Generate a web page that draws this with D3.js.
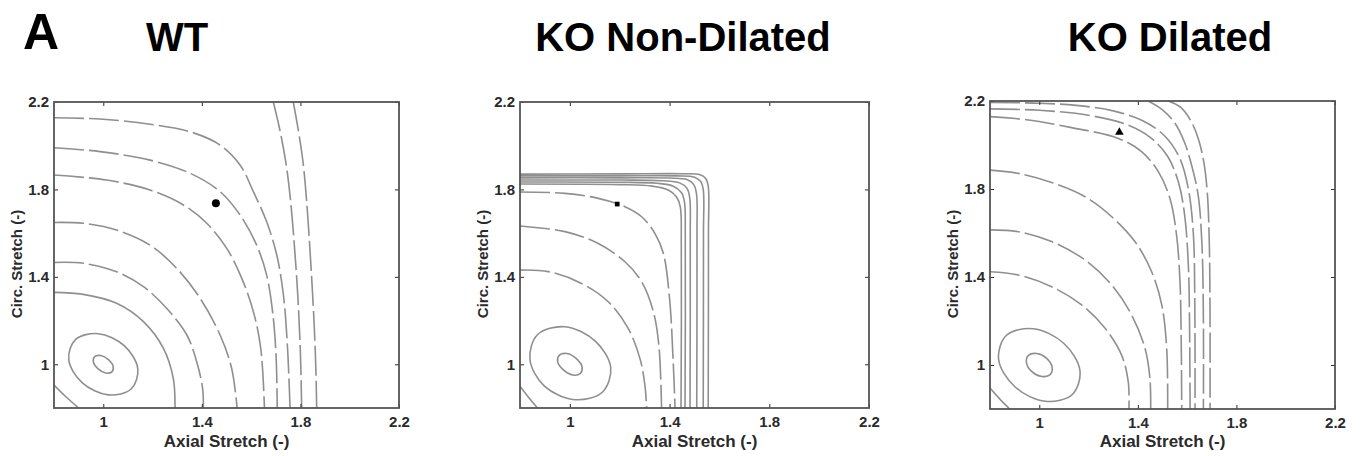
<!DOCTYPE html>
<html>
<head>
<meta charset="utf-8">
<script src="https://cdn.jsdelivr.net/npm/d3@7"></script>
<style>
  body { margin: 0; background: #fff; }
  svg { display: block; }
  text { font-family: "Liberation Sans", Arial, sans-serif; font-weight: bold; }
</style>
</head>
<body>
<div id="chart"></div>
<script>
const panelTitles = ["WT", "KO Non-Dilated", "KO Dilated"];
const figureLabel = "A";
const xTitle = "Axial Stretch (-)";
const yTitle = "Circ. Stretch (-)";
const axisDomain = [0.8, 2.2];
const tickValues = [1, 1.4, 1.8, 2.2];
const tickLabels = ["1", "1.4", "1.8", "2.2"];

// closed contours around the minimum at (1, 1)
const wtRings = [
  [[0.965, 1.035], [0.99, 1.04], [1.021, 1.021], [1.04, 0.99], [1.035, 0.965], [1.01, 0.96], [0.979, 0.979], [0.96, 1.01]],
  [[0.887, 1.113], [0.98, 1.14], [1.085, 1.085], [1.14, 0.98], [1.113, 0.887], [1.02, 0.86], [0.915, 0.915], [0.86, 1.02]]
];
// open contours, inner to outer
const wtContours = [
  [[0.8, 0.905], [0.845, 0.855], [0.9, 0.8]],
  [[0.8, 1.329], [0.919, 1.32], [1.054, 1.279], [1.163, 1.195], [1.244, 1.073], [1.284, 0.936], [1.291, 0.8]],
  [[0.8, 1.466], [0.919, 1.462], [1.054, 1.423], [1.163, 1.355], [1.257, 1.256], [1.339, 1.134], [1.379, 1.012], [1.403, 0.89], [1.406, 0.8]],
  [[0.8, 1.649], [0.919, 1.645], [1.054, 1.614], [1.19, 1.545], [1.298, 1.439], [1.393, 1.302], [1.474, 1.134], [1.521, 0.981], [1.543, 0.8]],
  [[0.8, 1.866], [1.014, 1.843], [1.19, 1.797], [1.325, 1.729], [1.42, 1.645], [1.501, 1.53], [1.562, 1.393], [1.609, 1.241], [1.639, 1.073], [1.654, 0.8]],
  [[0.8, 1.991], [0.987, 1.973], [1.19, 1.934], [1.352, 1.874], [1.474, 1.79], [1.555, 1.683], [1.622, 1.546], [1.663, 1.408], [1.687, 1.241], [1.701, 1.042], [1.706, 0.8]],
  [[0.8, 2.128], [0.987, 2.122], [1.19, 2.098], [1.352, 2.064], [1.474, 2.003], [1.555, 1.912], [1.609, 1.79], [1.663, 1.652], [1.704, 1.5], [1.731, 1.317], [1.747, 1.088], [1.758, 0.8]],
  [[1.69, 2.2], [1.715, 2.08], [1.74, 1.93], [1.758, 1.77], [1.775, 1.55], [1.79, 1.3], [1.8, 1.05], [1.805, 0.8]],
  [[1.771, 2.2], [1.79, 2.08], [1.81, 1.93], [1.825, 1.75], [1.84, 1.5], [1.855, 1.2], [1.862, 1.0], [1.866, 0.8]]
];
const wtPoint = [1.457, 1.737];

const koNonDilatedRings = [
  [[0.958, 1.042], [0.988, 1.049], [1.026, 1.026], [1.049, 0.988], [1.042, 0.958], [1.012, 0.951], [0.974, 0.974], [0.951, 1.012]],
  [[0.87, 1.135], [0.98, 1.172], [1.102, 1.106], [1.164, 0.985], [1.13, 0.872], [1.02, 0.838], [0.898, 0.9], [0.84, 1.022]]
];
const koNonDilatedContours = [
  [[0.8, 0.9], [0.835, 0.848], [0.87, 0.8]],
  [[0.8, 1.431], [0.914, 1.424], [1.047, 1.37], [1.154, 1.286], [1.234, 1.164], [1.281, 1.027], [1.301, 0.905], [1.308, 0.8]],
  [[0.8, 1.633], [0.98, 1.607], [1.114, 1.553], [1.221, 1.469], [1.288, 1.378], [1.335, 1.241], [1.357, 1.088], [1.368, 0.8]],
  [[0.8, 1.788], [0.98, 1.782], [1.114, 1.759], [1.221, 1.721], [1.288, 1.675], [1.341, 1.599], [1.375, 1.508], [1.4, 1.3], [1.415, 1.0], [1.422, 0.8]],
  [[0.8, 1.825], [1.2, 1.822], [1.33, 1.815], [1.395, 1.797], [1.428, 1.765], [1.443, 1.72], [1.447, 1.55], [1.446, 0.8]],
  [[0.8, 1.834], [1.2, 1.833], [1.35, 1.828], [1.415, 1.815], [1.448, 1.785], [1.46, 1.74], [1.463, 1.6], [1.462, 0.8]],
  [[0.8, 1.843], [1.2, 1.843], [1.37, 1.84], [1.44, 1.83], [1.47, 1.805], [1.481, 1.76], [1.483, 1.6], [1.482, 0.8]],
  [[0.8, 1.853], [1.2, 1.853], [1.4, 1.852], [1.47, 1.845], [1.497, 1.822], [1.508, 1.78], [1.51, 1.6], [1.509, 0.8]],
  [[0.8, 1.862], [1.2, 1.862], [1.43, 1.862], [1.5, 1.856], [1.525, 1.836], [1.535, 1.8], [1.536, 1.6], [1.535, 0.8]],
  [[0.8, 1.87], [1.2, 1.871], [1.45, 1.872], [1.52, 1.868], [1.545, 1.85], [1.555, 1.815], [1.556, 1.6], [1.555, 0.8]]
];
const koNonDilatedPoint = [1.19, 1.733];

const koDilatedRings = [
  [[0.956, 1.044], [0.99, 1.052], [1.03, 1.03], [1.052, 0.99], [1.044, 0.956], [1.01, 0.948], [0.97, 0.97], [0.948, 1.01]],
  [[0.866, 1.134], [0.975, 1.165], [1.099, 1.099], [1.165, 0.975], [1.134, 0.866], [1.025, 0.835], [0.901, 0.901], [0.835, 1.025]]
];
const koDilatedContours = [
  [[0.8, 0.895], [0.84, 0.845], [0.88, 0.8]],
  [[0.8, 1.424], [0.915, 1.409], [1.05, 1.356], [1.172, 1.273], [1.267, 1.167], [1.334, 1.045], [1.361, 0.924], [1.364, 0.8]],
  [[0.8, 1.614], [0.915, 1.606], [1.05, 1.561], [1.186, 1.477], [1.294, 1.364], [1.375, 1.227], [1.429, 1.076], [1.449, 0.939], [1.452, 0.8]],
  [[0.8, 1.886], [0.915, 1.871], [1.05, 1.83], [1.186, 1.765], [1.294, 1.674], [1.388, 1.561], [1.456, 1.424], [1.497, 1.273], [1.517, 1.076], [1.521, 0.8]],
  [[0.8, 2.129], [0.956, 2.114], [1.131, 2.079], [1.321, 2.03], [1.415, 1.97], [1.483, 1.879], [1.53, 1.758], [1.557, 1.591], [1.571, 1.379], [1.576, 1.106], [1.578, 0.8]],
  [[0.8, 2.164], [1.0, 2.158], [1.2, 2.135], [1.35, 2.095], [1.45, 2.035], [1.52, 1.95], [1.565, 1.83], [1.59, 1.68], [1.605, 1.45], [1.61, 1.15], [1.612, 0.8]],
  [[0.8, 2.193], [1.0, 2.19], [1.15, 2.18], [1.3, 2.155], [1.42, 2.11], [1.51, 2.04], [1.57, 1.94], [1.605, 1.8], [1.625, 1.6], [1.631, 1.3], [1.632, 0.8]],
  [[1.442, 2.2], [1.5, 2.16], [1.55, 2.1], [1.59, 2.01], [1.62, 1.9], [1.645, 1.77], [1.66, 1.55], [1.666, 1.2], [1.666, 0.8]],
  [[1.524, 2.2], [1.575, 2.17], [1.615, 2.11], [1.645, 2.03], [1.668, 1.92], [1.682, 1.78], [1.69, 1.55], [1.693, 1.2], [1.693, 0.8]]
];
const koDilatedPoint = [1.325, 2.058];

const panels = [
  { title: panelTitles[0], titleX: 177, left: 54, right: 399, top: 102, bottom: 408,
    rings: wtRings, lines: wtContours, point: wtPoint, symbol: d3.symbolCircle, symbolSize: 50,
    dashed: [false, false, true, true, true, true, true, true, true] },
  { title: panelTitles[1], titleX: 683, left: 520, right: 869, top: 102, bottom: 408,
    rings: koNonDilatedRings, lines: koNonDilatedContours, point: koNonDilatedPoint, symbol: d3.symbolSquare, symbolSize: 22,
    dashed: [false, true, true, true, false, false, false, false, false, false] },
  { title: panelTitles[2], titleX: 1170, left: 990, right: 1335, top: 101, bottom: 409,
    rings: koDilatedRings, lines: koDilatedContours, point: koDilatedPoint, symbol: d3.symbolTriangle, symbolSize: 32,
    dashed: [false, true, true, true, true, true, true, true, true] }
];

const contourColor = "#8f8f8f";
const inkColor = "#2a2a2a";

const svg = d3.select("#chart")
  .append("svg")
  .attr("width", 1362)
  .attr("height", 456);

svg.append("text")
  .attr("x", 23)
  .attr("y", 49)
  .attr("font-size", 50)
  .attr("fill", "#000")
  .text(figureLabel);

const defs = svg.append("defs");

panels.forEach((p, k) => {
  const x = d3.scaleLinear().domain(axisDomain).range([p.left, p.right]);
  const y = d3.scaleLinear().domain(axisDomain).range([p.bottom, p.top]);
  const g = svg.append("g");

  defs.append("clipPath")
    .attr("id", "clip" + k)
    .append("rect")
    .attr("x", p.left)
    .attr("y", p.top)
    .attr("width", p.right - p.left)
    .attr("height", p.bottom - p.top);

  const plot = g.append("g").attr("clip-path", `url(#clip${k})`);

  const openLine = d3.line()
    .x(d => x(d[0]))
    .y(d => y(d[1]))
    .curve(d3.curveCatmullRom.alpha(0.5));

  const closedLine = d3.line()
    .x(d => x(d[0]))
    .y(d => y(d[1]))
    .curve(d3.curveCatmullRomClosed.alpha(0.5));

  plot.selectAll("path.ring")
    .data(p.rings)
    .join("path")
    .attr("class", "ring")
    .attr("d", closedLine)
    .attr("fill", "none")
    .attr("stroke", contourColor)
    .attr("stroke-width", 1.6);

  plot.selectAll("path.level")
    .data(p.lines)
    .join("path")
    .attr("class", "level")
    .attr("d", openLine)
    .attr("fill", "none")
    .attr("stroke", contourColor)
    .attr("stroke-width", 1.6)
    .attr("stroke-dasharray", (d, i) => p.dashed[i] ? "30,5" : null);

  plot.append("path")
    .attr("d", d3.symbol().type(p.symbol).size(p.symbolSize))
    .attr("transform", `translate(${x(p.point[0])},${y(p.point[1])})`)
    .attr("fill", "#000");

  // axes with inward ticks on all four sides
  const styleAxis = a => {
    a.select(".domain").remove();
    a.attr("color", inkColor).attr("font-size", 15);
  };

  g.append("g")
    .attr("transform", `translate(0,${p.bottom})`)
    .call(d3.axisBottom(x).tickValues(tickValues).tickFormat((d, i) => tickLabels[i])
      .tickSizeInner(-4).tickSizeOuter(0).tickPadding(8))
    .call(styleAxis);

  g.append("g")
    .attr("transform", `translate(${p.left},0)`)
    .call(d3.axisLeft(y).tickValues(tickValues).tickFormat((d, i) => tickLabels[i])
      .tickSizeInner(-4).tickSizeOuter(0).tickPadding(5))
    .call(styleAxis);

  g.append("g")
    .attr("transform", `translate(0,${p.top})`)
    .call(d3.axisTop(x).tickValues(tickValues).tickFormat(() => "")
      .tickSizeInner(-4).tickSizeOuter(0))
    .call(styleAxis);

  g.append("g")
    .attr("transform", `translate(${p.right},0)`)
    .call(d3.axisRight(y).tickValues(tickValues).tickFormat(() => "")
      .tickSizeInner(-4).tickSizeOuter(0))
    .call(styleAxis);

  g.append("rect")
    .attr("x", p.left)
    .attr("y", p.top)
    .attr("width", p.right - p.left)
    .attr("height", p.bottom - p.top)
    .attr("fill", "none")
    .attr("stroke", "#555")
    .attr("stroke-width", 1.8);

  g.append("text")
    .attr("x", (p.left + p.right) / 2)
    .attr("y", 447)
    .attr("text-anchor", "middle")
    .attr("font-size", 17)
    .attr("fill", inkColor)
    .text(xTitle);

  g.append("text")
    .attr("transform", `translate(${p.left - 32},${(p.top + p.bottom) / 2 + 9}) rotate(-90)`)
    .attr("text-anchor", "middle")
    .attr("font-size", 15)
    .attr("fill", inkColor)
    .text(yTitle);

  g.append("text")
    .attr("x", p.titleX)
    .attr("y", 51)
    .attr("text-anchor", "middle")
    .attr("font-size", 40)
    .attr("fill", "#000")
    .text(p.title);
});
</script>
</body>
</html>
